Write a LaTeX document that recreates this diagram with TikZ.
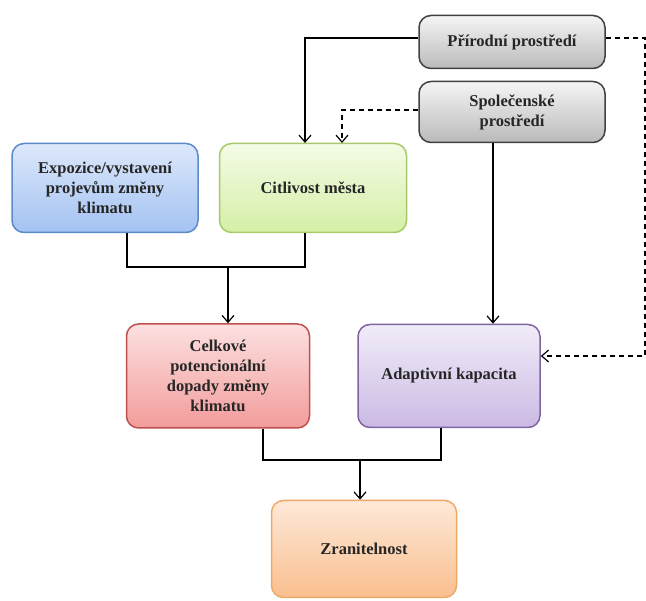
\documentclass[tikz,border=0pt]{standalone}
\usepackage{fontspec}
\setmainfont{Liberation Serif}
\usetikzlibrary{arrows.meta,positioning,calc}
\definecolor{expoline}{HTML}{5B8BC9}
\definecolor{expotop}{HTML}{DCE8FB}
\definecolor{expobot}{HTML}{A4C2F2}
\definecolor{citlline}{HTML}{A6C96A}
\definecolor{citltop}{HTML}{F4FBE6}
\definecolor{citlbot}{HTML}{D5EFA6}
\definecolor{celkline}{HTML}{C0504D}
\definecolor{celktop}{HTML}{FCE0E0}
\definecolor{celkbot}{HTML}{F29C9B}
\definecolor{adapline}{HTML}{8064A2}
\definecolor{adaptop}{HTML}{F1ECF8}
\definecolor{adapbot}{HTML}{CBBAE4}
\definecolor{zranline}{HTML}{F0A868}
\definecolor{zrantop}{HTML}{FDE9D8}
\definecolor{zranbot}{HTML}{FABF8F}
\tikzset{
  boxnode/.style={draw, rounded corners=12pt, line width=1.5pt, align=center, font=\fontsize{16.5}{20}\selectfont\bfseries, text=black!85, inner sep=2pt},
  greybox/.style={boxnode, draw=black!75, top color=black!4, bottom color=black!27, minimum width=186pt},
  link/.style={draw, line width=1.2pt, -{Straight Barb[length=7pt,width=12pt,line width=1.2pt]}},
  dlink/.style={link, dash pattern=on 5pt off 4pt}
}
\begin{document}
\begin{tikzpicture}[x=1pt, y=-1pt]
\useasboundingbox (0,0) rectangle (646,601);
\node[greybox, minimum height=53pt] (prir) at (512,42) {Přírodní prostředí};
\node[greybox, minimum height=61pt] (spol) at (512,112) {Společenské\\prostředí};
\node[boxnode, draw=expoline, top color=expotop, bottom color=expobot, minimum width=186pt, minimum height=89pt] (expo) at (105,188) {Expozice/vystavení\\projevům změny\\klimatu};
\node[boxnode, draw=citlline, top color=citltop, bottom color=citlbot, minimum width=187pt, minimum height=89pt] (citl) at (313,188) {Citlivost města};
\node[boxnode, draw=celkline, top color=celktop, bottom color=celkbot, minimum width=183pt, minimum height=104pt] (celk) at (218,376) {Celkové\\potencionální\\dopady změny\\klimatu};
\node[boxnode, draw=adapline, top color=adaptop, bottom color=adapbot, minimum width=182pt, minimum height=103pt] (adap) at (449,376) {Adaptivní kapacita};
\node[boxnode, draw=zranline, top color=zrantop, bottom color=zranbot, minimum width=185pt, minimum height=97pt] (zran) at (364,549) {Zranitelnost};
\coordinate (join1) at (228,267);
\coordinate (join2) at (360,460);
% arrows from the surroundings
\draw[link] (prir.west |- 0,38) -| (305,143);
\draw[dlink] (spol.west |- 0,110) -| (342,143);
\draw[dlink] (prir.east |- 0,38) -| (645,356) -- (adap.east |- 0,356);
\draw[link] (spol.south -| 493,0) -- (adap.north -| 493,0);
% first level
\draw[line width=1.2pt] (expo.south -| 127,0) |- (join1) -| (citl.south -| 305,0);
\draw[link] (join1) -- (celk.north -| join1);
% second level
\draw[line width=1.2pt] (celk.south -| 263,0) |- (join2) -| (adap.south -| 441,0);
\draw[link] (join2) -- (zran.north -| join2);
\end{tikzpicture}
\end{document}
